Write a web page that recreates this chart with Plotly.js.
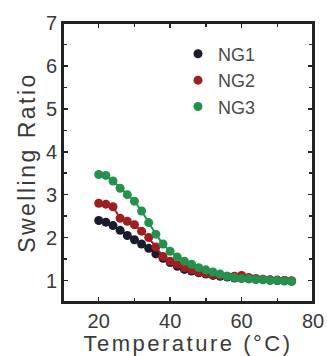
<!DOCTYPE html>
<html><head><meta charset="utf-8">
<script src="https://cdn.plot.ly/plotly-3.0.1.min.js"></script>
<style>html,body{margin:0;padding:0;background:#fff}#c{width:327px;height:356px}
text.xtitle,text.ytitle{letter-spacing:2.5px}</style>
</head><body><div id="c"></div>
<script>
const temps = [20,22,24,26,28,30,32,34,36,38,40,42,44,46,48,50,52,54,56,58,60,62,64,66,68,70,72,74];
const ng1 = [2.4,2.36,2.28,2.17,2.05,1.95,1.85,1.75,1.62,1.52,1.42,1.33,1.26,1.22,1.18,1.15,1.12,1.1,1.08,1.06,1.05,1.04,1.03,1.02,1.01,1.0,1.0,0.99];
const ng2 = [2.8,2.78,2.72,2.45,2.38,2.3,2.15,2.0,1.78,1.56,1.45,1.38,1.3,1.25,1.2,1.17,1.14,1.12,1.1,1.1,1.12,1.07,1.05,1.03,1.02,1.01,1.0,0.99];
const ng3 = [3.47,3.45,3.32,3.15,3.0,2.85,2.62,2.35,2.08,1.85,1.68,1.55,1.45,1.38,1.3,1.25,1.2,1.15,1.1,1.07,1.05,1.04,1.03,1.02,1.0,1.0,0.99,0.98];
const names = ['NG1','NG2','NG3'];
const colors = ['#1a1b2c','#a01e1e','#24914c'];
const series = [ng1, ng2, ng3];
const traces = [];
series.forEach((y,i)=>{
  traces.push({x: temps, y: y, type:'scatter', mode:'lines', showlegend:false,
    line:{color:colors[i], width:2}, hoverinfo:'skip'});
  traces.push({x: temps, y: y, name: names[i], type:'scatter', mode:'markers',
    marker:{color:colors[i], size:9}});
});
const ff = 'Liberation Sans, Arial, sans-serif';
const axisBase = {showline:true, mirror:'all', linecolor:'#222', linewidth:2,
  ticks:'inside', ticklen:5, tickwidth:1.5, tickcolor:'#222', showgrid:false, zeroline:false,
  tickfont:{size:20, family:ff, color:'#3a3a3a'}};
const layout = {
  width:327, height:356,
  margin:{l:63, r:14, t:23, b:54},
  paper_bgcolor:'#fff', plot_bgcolor:'#fff',
  font:{family:ff, color:'#3a3a3a'},
  showlegend:true,
  legend:{x:0.46, y:0.955, xanchor:'left', yanchor:'top', bgcolor:'rgba(0,0,0,0)',
    font:{size:18, family:ff, color:'#4a4a4a'}, itemwidth:30},
  shapes:[{type:'rect', xref:'paper', yref:'paper', x0:0, x1:1, y0:0, y1:1,
    line:{color:'#222', width:2}, fillcolor:'rgba(0,0,0,0)', layer:'above'}],
  xaxis: Object.assign({}, axisBase, {range:[10,80], dtick:20, tick0:0,
    minor:{dtick:10, ticks:'inside', ticklen:4, tickcolor:'#222'},
    title:{text:'Temperature (°C)', font:{size:22, color:'#3a3a3a'}, standoff:3}}),
  yaxis: Object.assign({}, axisBase, {range:[0.5,7], dtick:1, tick0:0,
    minor:{dtick:0.5, ticks:'inside', ticklen:4, tickcolor:'#222'},
    title:{text:'Swelling Ratio', font:{size:23, color:'#3a3a3a'}, standoff:4}})
};
Plotly.newPlot('c', traces, layout, {staticPlot:true, displayModeBar:false});
</script></body></html>
